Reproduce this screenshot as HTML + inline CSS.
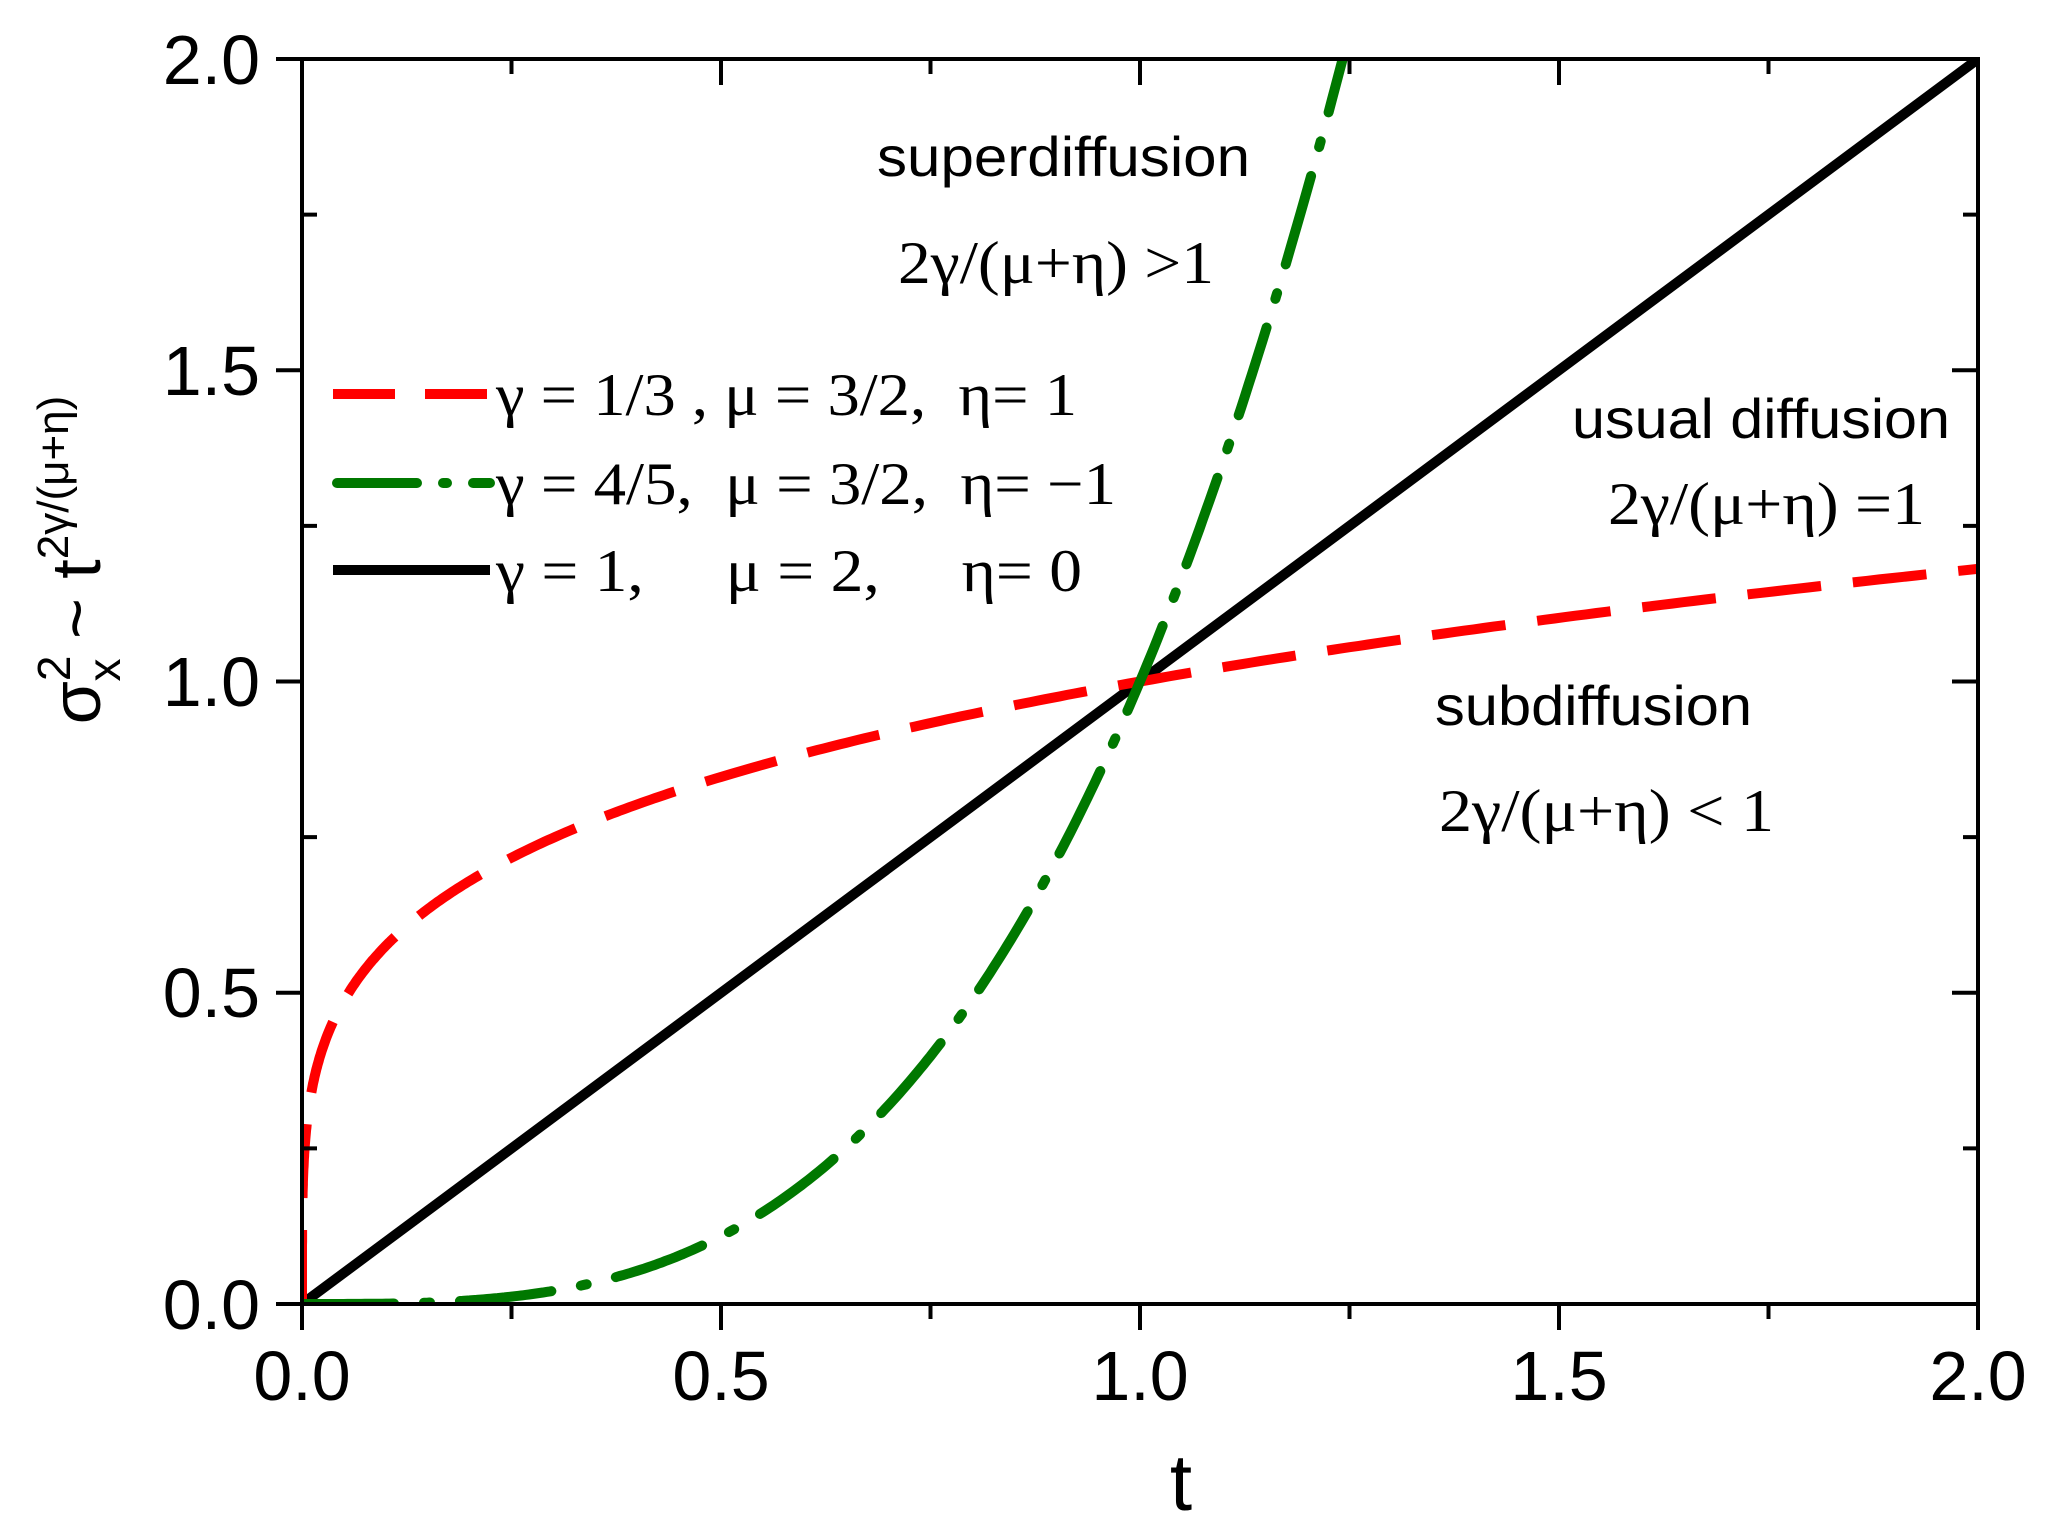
<!DOCTYPE html>
<html><head><meta charset="utf-8"><style>
html,body{margin:0;padding:0;background:#fff;}
svg{display:block}
.tk{font-family:"Liberation Sans Narrow","Liberation Sans",sans-serif;font-size:70px;fill:#000}
.lg{font-family:"Liberation Serif",serif;font-size:60px;fill:#000}
.an{font-family:"Liberation Sans Narrow","Liberation Sans",sans-serif;font-size:56px;fill:#000}
</style></head><body>
<svg id="s" width="2046" height="1538" viewBox="0 0 2046 1538" xmlns="http://www.w3.org/2000/svg">
<defs><clipPath id="c"><rect x="302" y="59" width="1676" height="1245"/></clipPath></defs>
<g clip-path="url(#c)">
<path id="pk" fill="none" stroke="#000" stroke-width="10"/>
<path id="pr" fill="none" stroke="#f00" stroke-width="10" stroke-dasharray="74 32"/>
<path id="pg" fill="none" stroke="#007800" stroke-width="10" stroke-linecap="round" stroke-dasharray="92 30 6 30"/>
</g>
<rect x="302" y="59" width="1676" height="1245" fill="none" stroke="#000" stroke-width="4"/>
<g id="ticks" stroke="#000" stroke-width="4"></g>
<g class="tk">
<text x="302" y="1400" text-anchor="middle">0.0</text>
<text x="721" y="1400" text-anchor="middle">0.5</text>
<text x="1140" y="1400" text-anchor="middle">1.0</text>
<text x="1559" y="1400" text-anchor="middle">1.5</text>
<text x="1978" y="1400" text-anchor="middle">2.0</text>
<text x="260" y="1329" text-anchor="end">0.0</text>
<text x="260" y="1017" text-anchor="end">0.5</text>
<text x="260" y="706" text-anchor="end">1.0</text>
<text x="260" y="395" text-anchor="end">1.5</text>
<text x="260" y="84" text-anchor="end">2.0</text>
<text x="1181" y="1510" text-anchor="middle" font-size="80">t</text>
</g>
<text class="tk" transform="translate(100,560) rotate(-90)" text-anchor="middle" font-size="72">σ<tspan font-size="46" dy="-30">2</tspan><tspan font-size="46" dx="-26" dy="50">x</tspan><tspan dy="-20"> ~ t</tspan><tspan font-size="44" dy="-32">2γ/(μ+η)</tspan></text>
<line x1="333" y1="394" x2="490" y2="394" stroke="#f00" stroke-width="10" stroke-dasharray="62 30"/>
<line x1="337" y1="483" x2="490" y2="483" stroke="#007800" stroke-width="10" stroke-linecap="round" stroke-dasharray="80 26 4 26"/>
<line x1="333" y1="570" x2="490" y2="570" stroke="#000" stroke-width="10"/>
<g class="lg">
<text x="496" y="415" textLength="581" lengthAdjust="spacingAndGlyphs" xml:space="preserve">γ = 1/3 , μ = 3/2,  η= 1</text>
<text x="496" y="504" textLength="620" lengthAdjust="spacingAndGlyphs" xml:space="preserve">γ = 4/5,  μ = 3/2,  η= −1</text>
<text x="496" y="591" textLength="586" lengthAdjust="spacingAndGlyphs" xml:space="preserve">γ = 1,     μ = 2,     η= 0</text>
<text x="898" y="283" textLength="316" lengthAdjust="spacingAndGlyphs">2γ/(μ+η) &gt;1</text>
<text x="1608" y="524" textLength="317" lengthAdjust="spacingAndGlyphs">2γ/(μ+η) =1</text>
<text x="1439" y="831" textLength="335" lengthAdjust="spacingAndGlyphs">2γ/(μ+η) &lt; 1</text>
</g>
<g class="an">
<text x="877" y="176" textLength="373" lengthAdjust="spacingAndGlyphs">superdiffusion</text>
<text x="1572" y="438" textLength="378" lengthAdjust="spacingAndGlyphs">usual diffusion</text>
<text x="1435" y="725" textLength="317" lengthAdjust="spacingAndGlyphs">subdiffusion</text>
</g>
</svg>
<script>
var X=function(t){return 302+838*t},Y=function(v){return 1304-622.5*v};
function p(f,pts){return pts.map(function(t,i){return (i?'L':'M')+X(t).toFixed(1)+' '+Y(f(t)).toFixed(1)}).join(' ')}
var a=[];for(var i=0;i<=400;i++){var u=i/400;a.push(2*u*u*u)}
document.getElementById('pk').setAttribute('d',p(function(t){return t},[0,2]));
document.getElementById('pr').setAttribute('d',p(function(t){return Math.pow(t,0.24)},a));
var b=[];for(var i=0;i<=300;i++)b.push(1.25*i/300);
document.getElementById('pg').setAttribute('d',p(function(t){return Math.pow(t,3.2)},b));
var g=document.getElementById('ticks'),h='';
for(var i=0;i<=8;i++){var x=X(i*0.25),maj=i%2==0;
h+='<line x1="'+x+'" y1="1304" x2="'+x+'" y2="'+(1304+(maj?26:15))+'"/>';
h+='<line x1="'+x+'" y1="59" x2="'+x+'" y2="'+(59+(maj?26:15))+'"/>';
var y=Y(i*0.25);
h+='<line x1="302" y1="'+y+'" x2="'+(302-(maj?26:0))+'" y2="'+y+'"/>';
h+='<line x1="302" y1="'+y+'" x2="'+(302+(maj?0:15))+'" y2="'+y+'"/>';
h+='<line x1="1978" y1="'+y+'" x2="'+(1978-(maj?26:15))+'" y2="'+y+'"/>';}
g.innerHTML=h;
</script>
</body></html>
